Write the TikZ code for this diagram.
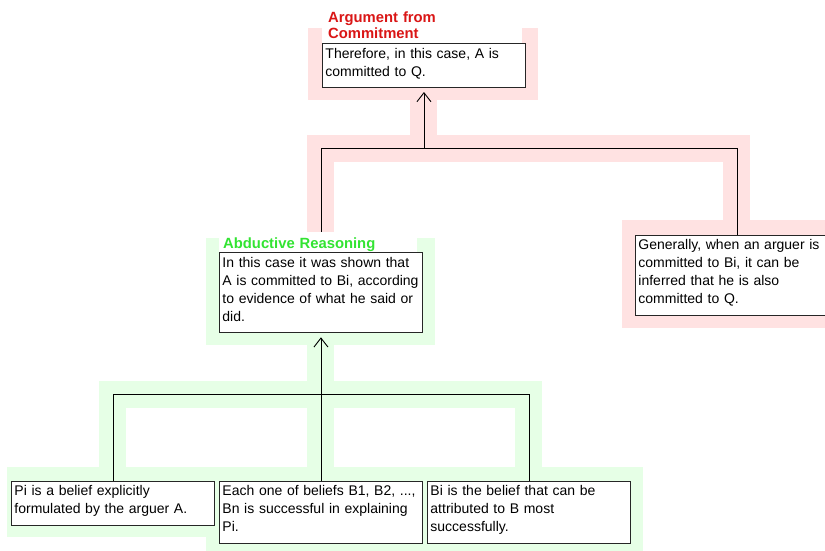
\documentclass[tikz,border=0pt]{standalone}
\usepackage{fontspec}
\setmainfont{Liberation Sans}
\usetikzlibrary{arrows.meta}
\pgfdeclarelayer{halored}
\pgfdeclarelayer{halogreen}
\pgfdeclarelayer{conns}
\pgfsetlayers{halored,halogreen,conns,main}
\definecolor{pinkhalo}{RGB}{255,226,226}
\definecolor{greenhalo}{RGB}{230,255,230}
\definecolor{redtitle}{RGB}{218,22,22}
\definecolor{greentitle}{RGB}{50,228,50}
\newcommand{\tstrut}{\rule{0pt}{14.6pt}}
\newcommand{\bstrut}{\rule[-11.5pt]{0pt}{11.5pt}}
\begin{document}
\begin{tikzpicture}[x=1pt,y=-1pt,
  stmt/.style={draw=black!85, fill=white, line width=0.9pt, anchor=north west,
    inner xsep=3pt, inner ysep=0pt, text width=197pt, align=left,
    font=\fontsize{14}{18}\selectfont},
  ttl/.style={fill=white, anchor=south west, inner ysep=0pt, align=left,
    font=\fontsize{14.8}{16.5}\selectfont\bfseries},
  conn/.style={draw=black, line width=0.9pt},
  tipped/.style={-{Straight Barb[length=9pt,width=14pt]}, shorten >=4pt},
  haloR/.style={draw=pinkhalo, line width=27pt, line join=miter},
  haloG/.style={draw=greenhalo, line width=27pt, line join=miter}]
\useasboundingbox (0,0) rectangle (825,550);

% statement boxes
\node[stmt] (top) at (322,43) {\tstrut Therefore, in this case, A is\\committed to Q.\bstrut};
\node[stmt] (gen) at (635,234.5) {\tstrut Generally, when an arguer is\\committed to Bi, it can be\\inferred that he is also\\committed to Q.\bstrut};
\node[stmt] (abd) at (219,252.3) {\tstrut In this case it was shown that\\A is committed to Bi, according\\to evidence of what he said or\\did.\bstrut};
\node[stmt] (pi) at (11,480.7) {\tstrut Pi is a belief explicitly\\formulated by the arguer A.\bstrut};
\node[stmt] (each) at (219,480.7) {\tstrut Each one of beliefs B1, B2, ...,\\Bn is successful in explaining\\Pi.\bstrut};
\node[stmt] (bi) at (427,480.7) {\tstrut Bi is the belief that can be\\attributed to B most\\successfully.\bstrut};

% titles
\node[ttl, text=redtitle, text width=188pt, inner xsep=6pt] (ttlA) at (top.north west)
  {\rule{0pt}{16.7pt}Argument from\\Commitment\rule[-4pt]{0pt}{4pt}};
\node[ttl, text=greentitle, text width=190pt, inner xsep=4pt] (ttlB) at (abd.north west)
  {\rule{0pt}{16.5pt}Abductive Reasoning\rule[-2.5pt]{0pt}{2.5pt}};

% junctions
\path (top.south) ++(0,60.7) coordinate (j1);
\path (abd.south) ++(0,61.2) coordinate (j2);

% connectors
\begin{pgfonlayer}{conns}
\draw[conn] (abd.north) |- (j1) -| (gen.north);
\draw[conn,tipped] (j1) -- (top.south);
\draw[conn] (pi.north) |- (j2) -| (bi.north);
\draw[conn,tipped] (each.north) -- (abd.south);
\end{pgfonlayer}

% halos of the argument from commitment
\begin{pgfonlayer}{halored}
\draw[haloR] (abd.north) |- (j1) -| (gen.north);
\draw[haloR] (j1) -- (top.south);
\fill[pinkhalo] (308,28) rectangle (538,100);
\fill[pinkhalo] (621.5,220) rectangle (850,328);
\end{pgfonlayer}

% halos of the abductive reasoning
\begin{pgfonlayer}{halogreen}
\draw[haloG] (pi.north) |- (j2) -| (bi.north);
\draw[haloG] (each.north) -- (abd.south);
\fill[greenhalo] (206,238) rectangle (435,345);
\fill[greenhalo] (7,466.7) rectangle (227,537);
\fill[greenhalo] (206,466.7) rectangle (435,560);
\fill[greenhalo] (413.5,466.7) rectangle (643,560);
\end{pgfonlayer}
\end{tikzpicture}
\end{document}
